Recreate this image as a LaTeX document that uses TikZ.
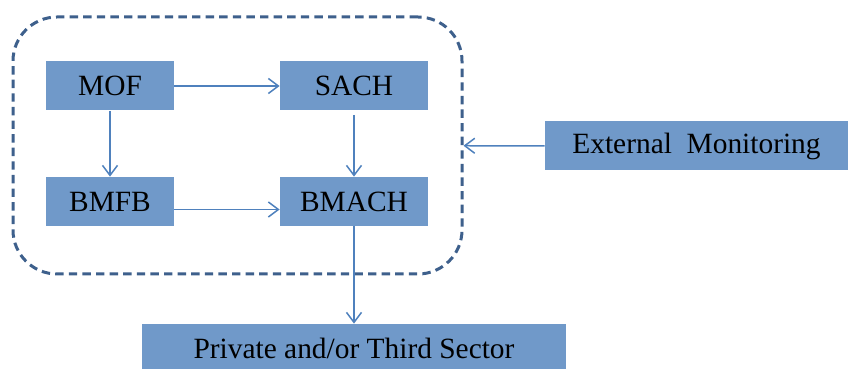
\documentclass[tikz,border=0pt]{standalone}
\usepackage{fontspec}
\setmainfont{Liberation Serif}
\usetikzlibrary{arrows.meta}
\definecolor{boxblue}{RGB}{112,153,201}
\definecolor{frameblue}{RGB}{62,96,140}
\definecolor{linkblue}{RGB}{79,129,189}
\begin{document}
\begin{tikzpicture}[x=0.5pt,y=-0.5pt,
  unit/.style={fill=boxblue, inner sep=0pt, minimum height=24.5pt, font=\fontsize{14.7}{16}\selectfont},
  frame/.style={draw=frameblue, line width=1.5pt, dash pattern=on 4.2pt off 2.6pt, rounded corners=22pt, inner sep=0pt},
  link/.style={draw=linkblue, line width=0.75pt, -{Straight Barb[length=5pt,width=7.5pt]}}]
\useasboundingbox (0,0) rectangle (848,369);
\node[frame, minimum width=224.5pt, minimum height=128.5pt] (frame) at (237.5,145.5) {};
\node[unit, minimum width=64pt] (mof) at (110,86) {MOF};
\node[unit, minimum width=74pt] (sach) at (354,86) {SACH};
\node[unit, minimum width=64pt] (bmfb) at (110,201.5) {BMFB};
\node[unit, minimum width=74pt] (bmach) at (354,201.5) {BMACH};
\node[unit, minimum width=151.5pt] (ext) at (696.5,146) {External\ \ Monitoring};
\node[unit, minimum width=212pt] (private) at (354,348.5) {Private and/or Third Sector};
\path[link] (mof) -- (sach);
\path[link] (mof) -- (bmfb);
\path[link] ([yshift=-2pt]sach.south) -- (bmach.north);
\path[link] ([yshift=-4pt]bmfb.east) -- ([yshift=-4pt]bmach.west);
\path[link] (bmach) -- (private);
\path[link] (ext) -- (frame);
\end{tikzpicture}
\end{document}
